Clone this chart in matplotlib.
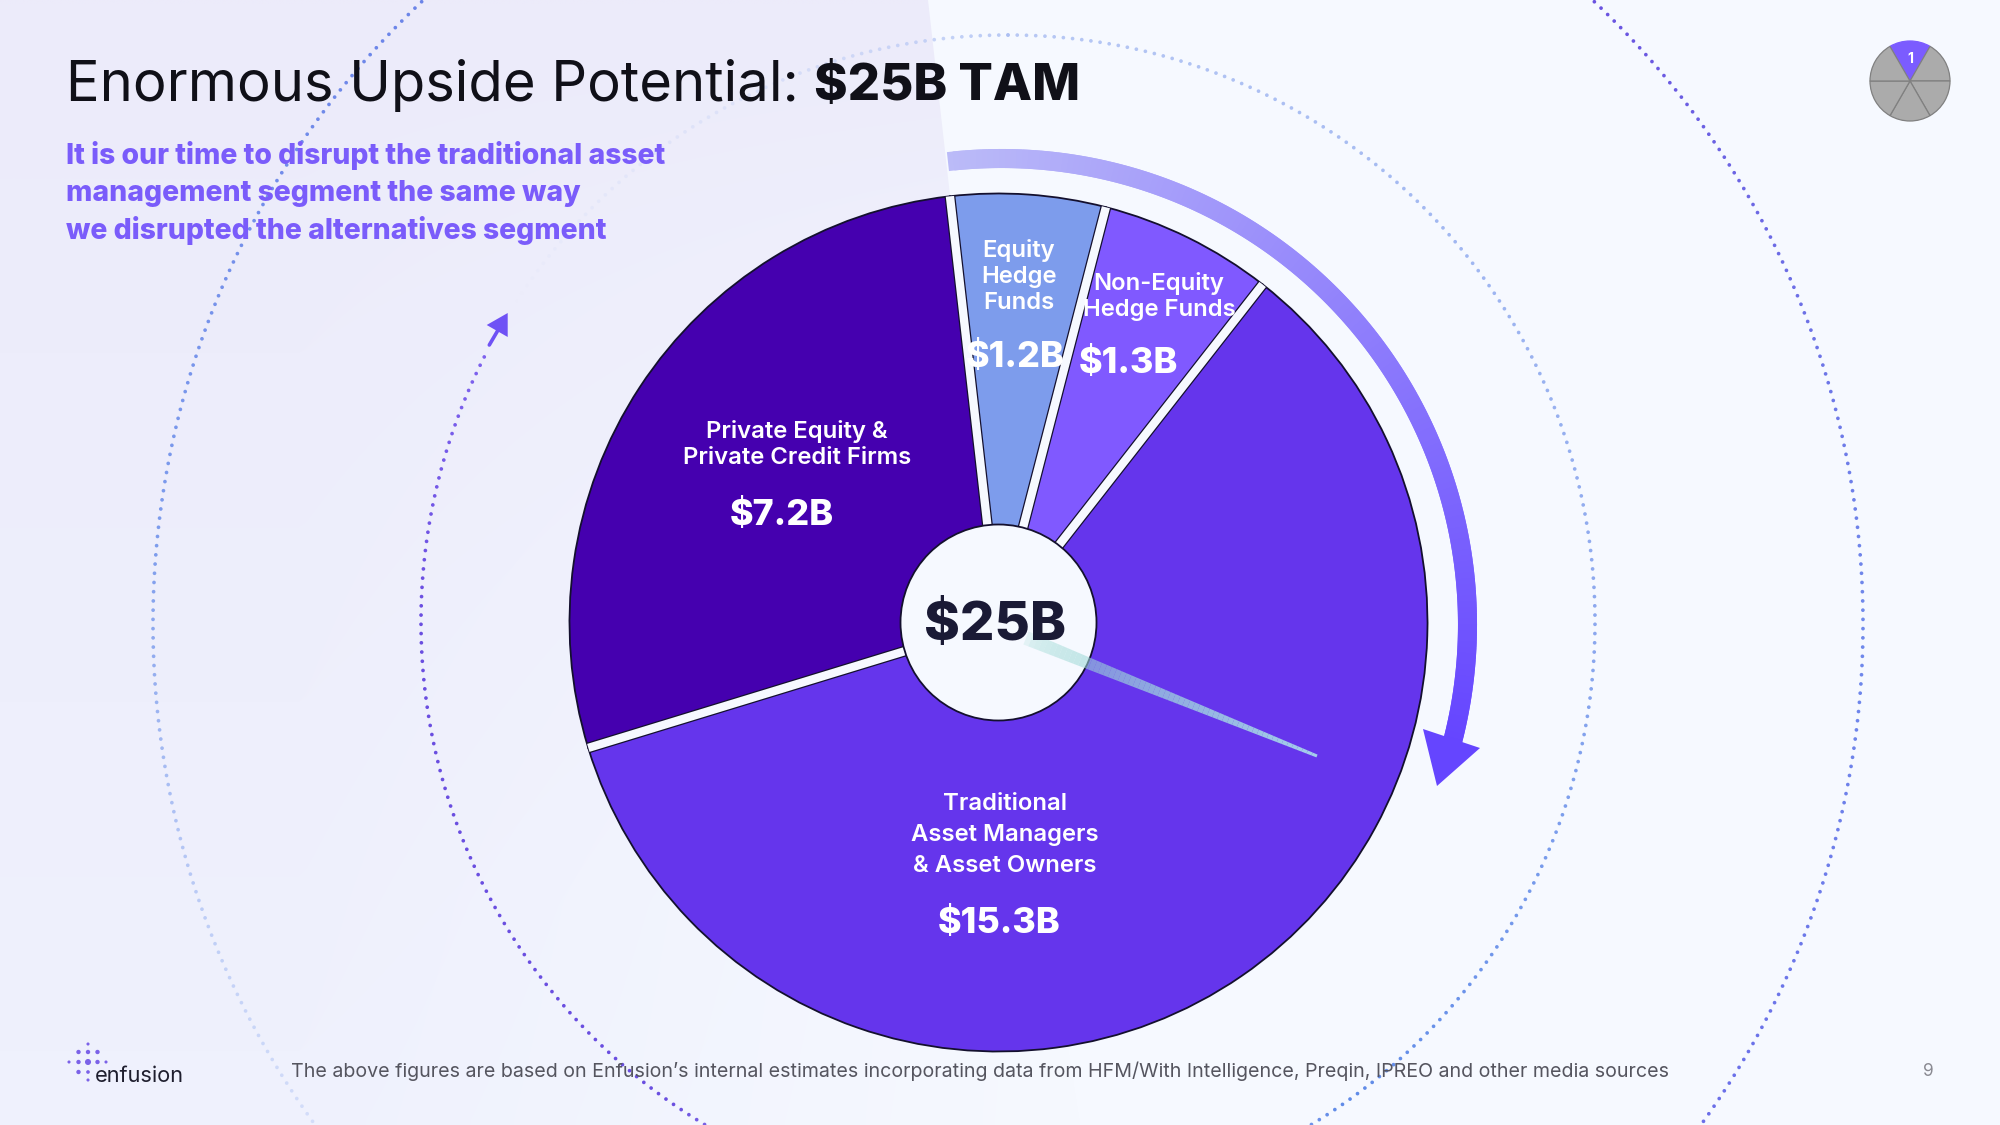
import numpy as np
import matplotlib
matplotlib.use('Agg')
import matplotlib.pyplot as plt
from matplotlib.collections import LineCollection, PolyCollection
from matplotlib.patches import Circle, Polygon

W, H = 2000, 1125
FONT = 'Inter'

# slices, clockwise from lower left
labels = ['Private Equity &\nPrivate Credit Firms', 'Equity\nHedge\nFunds', 'Non-Equity\nHedge Funds', 'Traditional\nAsset Managers\n& Asset Owners']
amounts = ['$7.2B', '$1.2B', '$1.3B', '$15.3B']
# the slices on the slide are not quite proportional, so these are the drawn sizes in degrees
drawn_deg = [100.5, 21, 23.5, 215]
slice_colors = ['#4500AF', '#7D9CEC', '#8059FF', '#6535EC']
total = '$25B'

title_plain = 'Enormous Upside Potential:'
title_bold = '$25B TAM'
subtitle = ['It is our time to disrupt the traditional asset', 'management segment the same way', 'we disrupted the alternatives segment']
footnote = 'The above figures are based on Enfusion\u2019s internal estimates incorporating data from HFM/With Intelligence, Preqin, IPREO and other media sources'

cx, cy, R = 998.5, 622.5, 429

fig = plt.figure(figsize=(20, 11.25), dpi=100)

# background
bg = fig.add_axes([0, 0, 1, 1])
bg.set_xlim(0, W)
bg.set_ylim(H, 0)
bg.axis('off')
base = np.array([246, 249, 255]) / 255
bg.add_patch(plt.Rectangle((0, 0), W, H, color=base, zorder=0))
yy, xx = np.mgrid[0:H:8, 0:1100:8]
t = np.clip(1 - yy / 1400, 0, 1)[..., None]
grad = np.array([240, 243, 254]) / 255 * (1 - t) + np.array([236, 235, 250]) / 255 * t
t2 = np.clip((xx - 300) / 800, 0, 1)[..., None] * np.clip(yy / 900, 0, 1)[..., None]
grad = grad * (1 - t2) + base * t2
im = bg.imshow(grad, extent=(0, 1100, H, 0), aspect='auto', zorder=1, interpolation='bilinear')
clip = Polygon([(0, 0), (928, 0), (955, 240), (1000, 620), (1080, 1125), (0, 1125)], transform=bg.transData, fc='none', ec='none')
bg.add_patch(clip)
im.set_clip_path(clip)
bg.set_xlim(0, W)
bg.set_ylim(H, 0)


def ring(ax, x0, y0, r, keys, step=9.2, a0=0, a1=360, size=7):
    # dotted circle, colour picked by angle (deg clockwise from top)
    n = int(np.radians(a1 - a0) * r / step)
    ang = np.linspace(a0, a1, n)
    key_a = [k[0] for k in keys]
    rgba = np.array([matplotlib.colors.to_rgba(k[1], k[2]) for k in keys])
    cols = np.column_stack([np.interp(ang % 360, key_a, rgba[:, i]) for i in range(4)])
    th = np.radians(ang)
    ax.scatter(x0 + r * np.sin(th), y0 - r * np.cos(th), s=size, c=cols, linewidths=0, zorder=3)


# outer ring
ring(bg, 1008, 624, 855, [(0, '#B7C8F5', 0.5), (43, '#6A52E0', 1), (90, '#6F8AEB', 1), (130, '#6A6AE8', 1), (180, '#7C8CF0', 0.5), (215, '#C4D2F8', 0.2), (250, '#9DB6F2', 0.6), (275, '#7D9CEC', 1), (320, '#6A82E8', 1), (360, '#B7C8F5', 0.5)])
# inner ring, the left part stops at the small arrow and only comes back faintly
ring(bg, 1008, 622, 587, [(0, '#A9BDF2', 0.8), (90, '#8CA8EE', 1), (145, '#5F8BE8', 1), (180, '#8A8AEE', 0.4), (215, '#6A4EE0', 1), (270, '#6A4EE0', 1), (297.4, '#7E62EE', 1),
                          (297.6, '#C8D4F6', 0), (303, '#C8D4F6', 0), (310, '#C8D4F6', 0.15), (335, '#C0CEF6', 0.4), (360, '#A9BDF2', 0.8)])

# pie
pie_ax = fig.add_axes([(cx - R * 1.25) / W, 1 - (cy + R * 1.25) / H, 2.5 * R / W, 2.5 * R / H])
pie_ax.patch.set_alpha(0)
wedges, _ = pie_ax.pie(drawn_deg, colors=slice_colors, startangle=-163, counterclock=False,
                       wedgeprops={'edgecolor': '#14102e', 'linewidth': 1.3})
disc = Circle((0, 0), 1, transform=pie_ax.transData)
for w in wedges:
    a = np.radians(w.theta1)
    for lw, col in [(7.8, '#14102e'), (6.0, '#F6F9FF')]:
        ln, = pie_ax.plot([0, 1.1 * np.cos(a)], [0, 1.1 * np.sin(a)], color=col, lw=lw, solid_capstyle='butt', zorder=5)
        ln.set_clip_path(disc)
pie_ax.add_patch(Circle((0, 0), 98 / R, fc='#F6F9FF', ec='#14102e', lw=1.3, zorder=6))

# everything on top, in pixel coordinates
top = fig.add_axes([0, 0, 1, 1])
top.set_xlim(0, W)
top.set_ylim(H, 0)
top.axis('off')

# big arrow round the pie
arc = np.radians(np.linspace(-6.6, 105.5, 160))
ax_, ay_ = cx + 3 + 466 * np.sin(arc), cy + 2 - 466 * np.cos(arc)
pts = np.column_stack([ax_, ay_])
segs = [pts[i:i + 3] for i in range(len(pts) - 2)]
c0, c1 = np.array(matplotlib.colors.to_rgb('#BBBBF8')), np.array(matplotlib.colors.to_rgb('#6545FF'))
f = np.linspace(0, 1, len(segs))[:, None]
top.add_collection(LineCollection(segs, colors=c0 * (1 - f) + c1 * f, linewidths=13.7, capstyle='butt', zorder=4))
top.add_patch(Polygon([(1423, 729), (1480, 748), (1437, 786)], fc='#6545FF', ec='none', zorder=5))

# needle out of the centre
nx = np.linspace(1026, 1317, 60)
ny = np.linspace(638, 756, 60)
half = np.linspace(7, 1.5, 60)
ux, uy = 118 / 314, -291 / 314
polys = [[(nx[i] + half[i] * ux, ny[i] + half[i] * uy), (nx[i + 1] + half[i + 1] * ux, ny[i + 1] + half[i + 1] * uy),
          (nx[i + 1] - half[i + 1] * ux, ny[i + 1] - half[i + 1] * uy), (nx[i] - half[i] * ux, ny[i] - half[i] * uy)] for i in range(59)]
g = np.linspace(0, 1, 59)[:, None]
ncol = np.column_stack([np.array([0.60, 0.85, 0.82]) * (1 - g) + np.array([0.66, 0.84, 0.92]) * g, 0.2 + 0.75 * g[:, 0] ** 0.45])
top.add_collection(PolyCollection(polys, facecolors=ncol, edgecolors='none', zorder=4))

# small arrow on the inner ring
top.plot([489.3, 497.5], [345, 331], color='#6F52F5', lw=2.6, solid_capstyle='round', zorder=5)
top.add_patch(Polygon([(507.7, 313), (486.7, 325), (507.7, 337)], fc='#6F52F5', ec='none', zorder=5))

# slice texts
label_pos = [(797, 444.5), (1019, 276.5), (1159, 296.5), (1005, 835)]
label_gap = [1.25, 1.25, 1.25, 1.55]
amount_pos = [(782, 516), (1015, 358), (1128, 364), (999, 924)]
for lab, amt, lp, ap, sp in zip(labels, amounts, label_pos, amount_pos, label_gap):
    top.text(lp[0], lp[1], lab, color='white', fontsize=17.2, fontweight='semibold', family=FONT, ha='center', va='center', linespacing=sp, zorder=8)
    top.text(ap[0], ap[1], amt, color='white', fontsize=25.8, fontweight=800, family=FONT, ha='center', va='center', zorder=8)
top.text(995, 626, total, color='#1A1A35', fontsize=39.2, fontweight=800, family=FONT, ha='center', va='center', zorder=8)

# heading
top.text(66, 86, title_plain, fontsize=40.4, family=FONT, color='#101018', va='center', ha='left', zorder=8)
top.text(814, 86, title_bold, fontsize=36.7, family=FONT, fontweight=800, color='#101018', va='center', ha='left', zorder=8)
for line, y in zip(subtitle, [155.5, 193.5, 230.5]):
    top.text(66, y, line, fontsize=20.4, family=FONT, fontweight=800, color='#7A5CFA', va='center', ha='left', zorder=8)

# footer
top.text(291, 1071, footnote, fontsize=14.15, family=FONT, color='#55555F', va='center', ha='left', zorder=8)
top.text(1928, 1071, '9', fontsize=12.5, family=FONT, color='#8A8A92', va='center', ha='center', zorder=8)

# logo
logo_x = [88, 78.5, 88, 97.5, 69, 78.5, 88, 97.5, 106, 78.5, 88, 88]
logo_y = [1044, 1052, 1052, 1052, 1062, 1062, 1062, 1062, 1062, 1072, 1072, 1080]
logo_s = [5, 10, 10, 10, 5, 10, 19, 10, 5, 10, 7, 5]
top.scatter(logo_x, logo_y, s=logo_s, color='#7B62E8', linewidths=0, zorder=8)
top.text(95, 1075.5, 'enfusion', fontsize=15.7, family=FONT, color='#1E1E2E', va='center', ha='left', zorder=8)

# small wheel, top right
wheel = fig.add_axes([(1910 - 50) / W, 1 - (81 + 50) / H, 100 / W, 100 / H])
wheel.patch.set_alpha(0)
wheel.pie([1] * 6, colors=['#7B5CFF'] + ['#ABABAB'] * 5, startangle=120, counterclock=False, radius=1,
          wedgeprops={'edgecolor': '#808080', 'linewidth': 0.9})
for p in wheel.patches[:1]:
    p.set_edgecolor('#7B5CFF')
wheel.text(0, 0.56, '1', color='white', fontsize=10, fontweight='bold', family=FONT, ha='center', va='center')
wheel.set_xlim(-1.25, 1.25)
wheel.set_ylim(-1.25, 1.25)

fig.savefig('out.png', dpi=100)
